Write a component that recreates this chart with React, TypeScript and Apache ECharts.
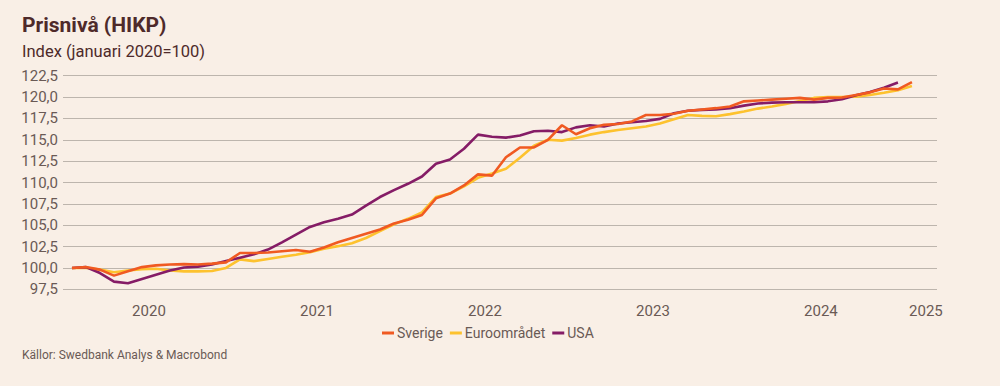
import React, { useEffect, useRef } from "react";
import * as echarts from "echarts";

const yearLabels = ["2020", "2021", "2022", "2023", "2024", "2025"];
// month index (0 = januari 2020) where each year label is centred
const yearLabelPositions = [5.5, 17.5, 29.5, 41.5, 53.5, 61];

const sverige = [
  100.0, 100.1, 99.8, 99.1, 99.6, 100.1, 100.3, 100.4, 100.45, 100.4, 100.5, 100.65,
  101.75, 101.75, 101.8, 101.95, 102.1, 101.9, 102.4, 103.0, 103.5, 104.0, 104.5, 105.2,
  105.65, 106.2, 108.15, 108.7, 109.65, 110.95, 110.8, 112.95, 114.1, 114.1, 115.0, 116.7,
  115.65, 116.35, 116.75, 116.85, 117.15, 117.9, 117.9, 118.05, 118.4, 118.55, 118.7, 118.9,
  119.5, 119.6, 119.7, 119.8, 119.9, 119.7, 119.9, 119.95, 120.25, 120.55, 121.0, 120.9,
  121.75,
];

const euro = [
  100.0, 100.0, 99.8, 99.5, 99.7, 99.85, 99.9, 99.7, 99.6, 99.6, 99.65, 100.0,
  101.0, 100.8, 101.05, 101.3, 101.55, 101.85, 102.25, 102.55, 102.9, 103.5, 104.3, 105.1,
  105.75, 106.5, 108.3, 108.7, 109.55, 110.55, 111.05, 111.6, 112.9, 114.3, 115.0, 114.9,
  115.2, 115.6, 115.9, 116.15, 116.35, 116.55, 116.9, 117.4, 117.9, 117.8, 117.75, 118.0,
  118.3, 118.65, 118.9, 119.2, 119.55, 119.9, 120.0, 120.0, 120.05, 120.25, 120.5, 120.8,
  121.3,
];

const usa = [
  100.0, 100.1, 99.4, 98.4, 98.2, 98.7, 99.2, 99.7, 100.05, 100.15, 100.4, 100.8,
  101.2, 101.6, 102.15, 103.0, 103.9, 104.8, 105.35, 105.75, 106.25, 107.3, 108.3, 109.1,
  109.85, 110.7, 112.2, 112.7, 113.95, 115.6, 115.35, 115.25, 115.5, 116.0, 116.05, 115.9,
  116.45, 116.7, 116.55, 116.9, 117.05, 117.2, 117.45, 118.1, 118.4, 118.5, 118.55, 118.7,
  119.0, 119.25, 119.35, 119.4, 119.4, 119.4, 119.5, 119.75, 120.2, 120.6, 121.1, 121.7,
];

const seriesNames = ["Sverige", "Euroområdet", "USA"];
const seriesColors = ["#F05A22", "#FDC22E", "#851C66"];

const toPoints = (arr: number[]) => arr.map((v, i) => [i, v]);

export default function App() {
  const ref = useRef<HTMLDivElement>(null);

  useEffect(() => {
    if (!ref.current) return;
    const chart = echarts.init(ref.current, undefined, { renderer: "svg" });
    const textColor = "#6A5A55";
    const dataSets = [sverige, euro, usa];
    chart.setOption({
      animation: false,
      backgroundColor: "#F9EFE6",
      textStyle: { fontFamily: "Roboto" },
      title: [
        {
          text: "Prisnivå (HIKP)",
          left: 22,
          top: 13,
          padding: 0,
          textStyle: { fontFamily: "Roboto", fontSize: 21, fontWeight: "bold", color: "#4E2A2A", lineHeight: 24 },
        },
        {
          text: "Index (januari 2020=100)",
          left: 22,
          top: 41,
          padding: 0,
          textStyle: { fontFamily: "Roboto", fontSize: 16.5, fontWeight: "normal", color: "#4E2A2A", lineHeight: 20 },
        },
        {
          text: "Källor: Swedbank Analys & Macrobond",
          left: 22,
          top: 348,
          padding: 0,
          textStyle: { fontFamily: "Roboto", fontSize: 12, fontWeight: "normal", color: "#6A5A55", lineHeight: 14 },
        },
      ],
      legend: {
        data: seriesNames,
        left: 382,
        top: 326,
        padding: 0,
        icon: "rect",
        itemWidth: 12,
        itemHeight: 3,
        itemGap: 7,
        textStyle: { color: textColor, fontSize: 14, fontFamily: "Roboto", padding: [0, 0, 0, -2] },
      },
      grid: { left: 63, right: 63, top: 75.7, bottom: 96.7, containLabel: false },
      xAxis: {
        type: "value",
        min: -0.64,
        max: 61.79,
        axisLine: { show: false },
        axisTick: { show: false },
        splitLine: { show: false },
        axisLabel: {
          customValues: yearLabelPositions,
          formatter: (v: number) => {
            const idx = yearLabelPositions.findIndex((p) => Math.abs(p - v) < 0.01);
            return idx >= 0 ? yearLabels[idx] : "";
          },
          color: textColor,
          fontSize: 15,
          margin: 14,
          fontFamily: "Roboto",
        },
      },
      yAxis: {
        type: "value",
        min: 97.5,
        max: 122.5,
        interval: 2.5,
        axisLine: { show: false },
        axisTick: { show: false },
        splitLine: { lineStyle: { color: "#BDB5AD", width: 1.2 } },
        axisLabel: {
          formatter: (v: number) => v.toFixed(1).replace(".", ","),
          color: textColor,
          fontSize: 15,
          margin: 5,
          fontFamily: "Roboto",
        },
      },
      series: seriesNames.map((name, i) => ({
        name,
        type: "line",
        data: toPoints(dataSets[i]),
        showSymbol: false,
        symbol: "none",
        lineStyle: { color: seriesColors[i], width: 2.6 },
        itemStyle: { color: seriesColors[i] },
        z: i === 2 ? 3 : i === 0 ? 4 : 2,
      })),
    });
    return () => chart.dispose();
  }, []);

  return <div ref={ref} style={{ width: 1000, height: 386, position: "absolute", left: 0, top: 0 }} />;
}
